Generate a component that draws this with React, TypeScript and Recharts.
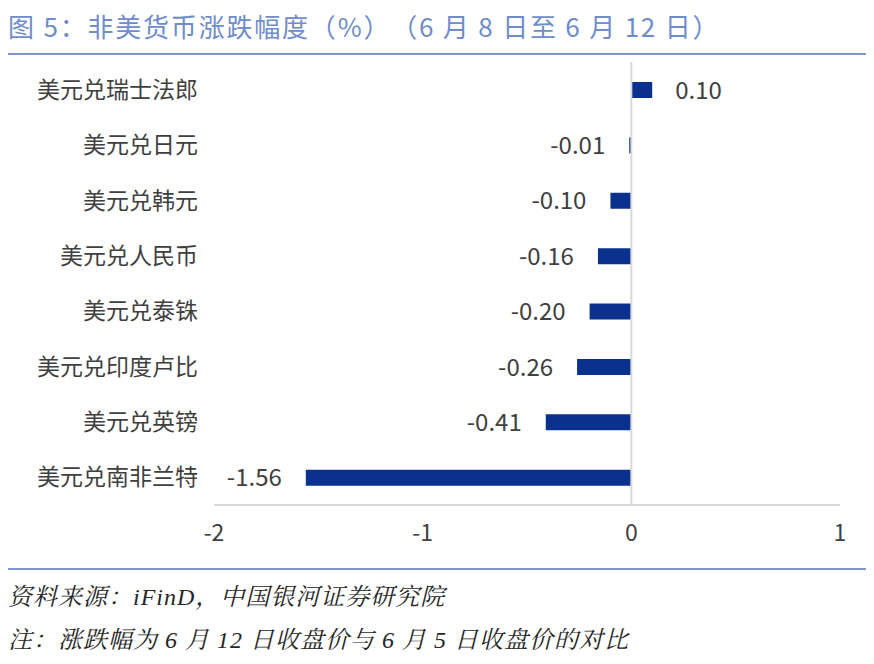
import React from "react";
import {
  BarChart,
  Bar,
  XAxis,
  YAxis,
  ReferenceLine,
  LabelList,
  Cell,
} from "recharts";

const categories = [
  "美元兑瑞士法郎",
  "美元兑日元",
  "美元兑韩元",
  "美元兑人民币",
  "美元兑泰铢",
  "美元兑印度卢比",
  "美元兑英镑",
  "美元兑南非兰特",
];
const changes = [0.1, -0.01, -0.1, -0.16, -0.2, -0.26, -0.41, -1.56];
const xTicks = [-2, -1, 0, 1];

const titleText = "图 5：非美货币涨跌幅度（%）（6 月 8 日至 6 月 12 日）";
const sourceText = "资料来源：iFinD，中国银河证券研究院";
const noteText = "注：涨跌幅为 6 月 12 日收盘价与 6 月 5 日收盘价的对比";

const data = categories.map((name, i) => ({ name, value: changes[i] }));

const NUM_FONT = "'Liberation Sans Narrow', 'Noto Sans CJK SC', sans-serif";
const CJK_FONT = "'Noto Sans CJK SC', sans-serif";
const TEXT = "#404040";
const BAR = "#0b318f";
const RULE = "#7f98cc";

const ValueLabel = (props: any) => {
  const { x, y, width, height, value } = props;
  const left = Math.min(x, x + width);
  const right = Math.max(x, x + width);
  const cy = y + height / 2;
  const pos = value >= 0;
  return (
    <text
      x={pos ? right + 23 : left - 24}
      y={cy}
      dy="0.36em"
      textAnchor={pos ? "start" : "end"}
      fontFamily={NUM_FONT}
      fontSize={24}
      fill={TEXT}
    >
      {value.toFixed(2)}
    </text>
  );
};

const footStyle: React.CSSProperties = {
  position: "absolute",
  left: 8,
  fontFamily: "'Liberation Serif', 'Noto Serif CJK SC', 'Noto Sans CJK SC', serif",
  fontStyle: "italic",
  fontSize: 24,
  letterSpacing: 1,
  color: "#262626",
  whiteSpace: "nowrap",
  lineHeight: "30px",
  textSpacingTrim: "space-all",
} as any;

export default function App() {
  return (
    <div
      style={{
        position: "fixed",
        left: 0,
        top: 0,
        width: 874,
        height: 664,
        background: "#fff",
      }}
    >
      <div
        style={{
          position: "absolute",
          left: 8,
          top: 10,
          fontFamily: CJK_FONT,
          fontSize: 26,
          letterSpacing: 1.8,
          color: "#6f8ccb",
          whiteSpace: "nowrap",
          lineHeight: "32px",
          textSpacingTrim: "space-all",
        } as any}
      >
        {titleText}
      </div>
      <div
        style={{
          position: "absolute",
          left: 8,
          top: 53,
          width: 858,
          height: 2,
          background: RULE,
        }}
      />
      <div style={{ position: "absolute", left: 0, top: 0 }}>
        <BarChart
          width={874}
          height={664}
          data={data}
          layout="vertical"
          margin={{ top: 62, right: 34, bottom: 129, left: 14 }}
          barSize={16}
        >
          <XAxis
            type="number"
            domain={[-2, 1]}
            ticks={xTicks}
            axisLine={{ stroke: "#d9d9d9", strokeWidth: 2 }}
            tickLine={false}
            tickMargin={14}
            height={30}
            tick={{ fontFamily: NUM_FONT, fontSize: 23, fill: TEXT }}
          />
          <YAxis
            type="category"
            dataKey="name"
            width={200}
            axisLine={false}
            tickLine={false}
            tickMargin={10}
            tick={{ fontFamily: CJK_FONT, fontSize: 23, fill: TEXT }}
          />
          <ReferenceLine x={0} stroke="#d9d9d9" strokeWidth={2} />
          <Bar dataKey="value" fill={BAR} isAnimationActive={false}>
            {data.map((d) => (
              <Cell key={d.name} fill={BAR} />
            ))}
            <LabelList dataKey="value" content={<ValueLabel />} />
          </Bar>
        </BarChart>
      </div>
      <div
        style={{
          position: "absolute",
          left: 8,
          top: 568,
          width: 858,
          height: 2,
          background: RULE,
        }}
      />
      <div style={{ ...footStyle, top: 582 }}>{sourceText}</div>
      <div style={{ ...footStyle, top: 625 }}>{noteText}</div>
    </div>
  );
}
